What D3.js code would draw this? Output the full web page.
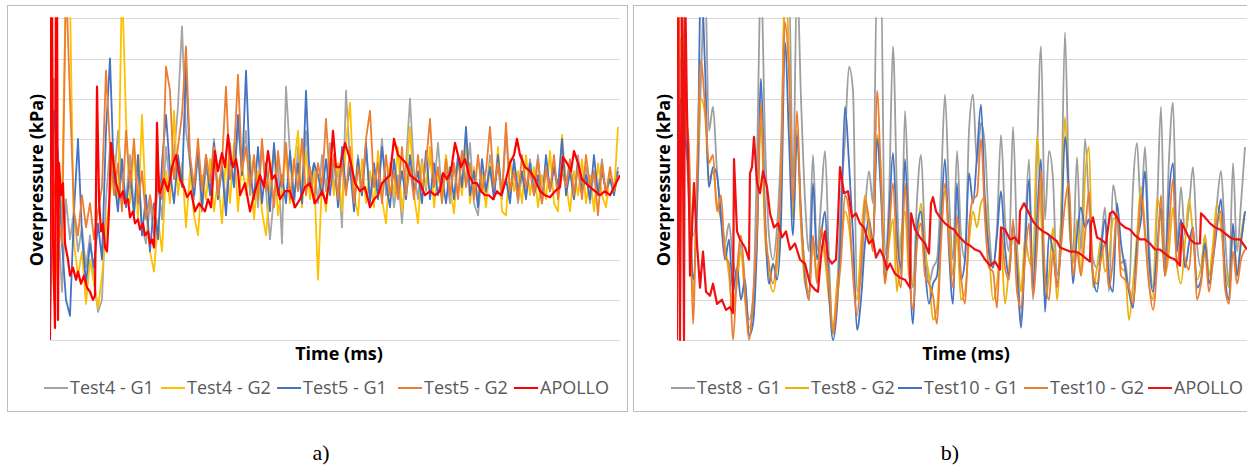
<!DOCTYPE html>
<html>
<head>
<meta charset="utf-8">
<script src="https://cdn.jsdelivr.net/npm/d3@7"></script>
<style>
  body { margin: 0; background: #fff; }
  svg { display: block; }
</style>
</head>
<body>
<div id="chart"></div>
<script>
// sample step of the measured series (same time units as the axis domain)
var step = 4

// ---------- panel a) ----------
var test4G1 = [
  0.5, 6.5, 3.0, 1.2, 3.5, 2.5, 3.2, 2.2, 2.8, 1.8,
  2.6, 1.5, 0.7, 1.0, 3.5, 4.8, 3.9, 5.2, 4.0, 3.5,
  4.6, 3.2, 4.4, 2.8, 2.4, 3.4, 2.6, 3.9, 3.0, 4.8,
  3.8, 4.6, 5.8, 7.8, 5.2, 4.4, 3.5, 4.6, 3.2, 4.3,
  3.8, 5.0, 3.6, 4.4, 3.4, 4.9, 3.8, 5.4, 4.2, 5.2,
  3.6, 4.5, 3.3, 4.8, 3.7, 2.5, 3.6, 4.5, 2.4, 6.3,
  4.6, 3.3, 4.8, 3.6, 5.2, 3.9, 4.4, 3.4, 4.6, 3.7,
  4.9, 3.8, 4.2, 2.8, 6.2, 4.4, 3.5, 4.6, 3.6, 4.8,
  3.5, 4.3, 3.8, 5.0, 3.6, 4.4, 3.3, 4.1, 2.9, 4.4,
  6.0, 4.2, 3.5, 4.5, 3.7, 4.6, 3.8, 4.9, 3.6, 4.2,
  3.4, 4.4, 3.6, 4.7, 3.9, 4.9, 3.4, 3.1, 4.2, 3.6,
  4.6, 3.8, 4.3, 3.5, 5.2, 3.6, 4.4, 3.4, 4.1, 3.6,
  4.5, 3.8, 4.6, 3.5, 4.2, 3.7, 4.3, 3.6, 4.8, 3.9,
  4.4, 3.5, 4.6, 3.8, 4.3, 3.4, 4.2, 3.7, 4.5, 3.6,
  4.1, 3.8, 4.3
]
var test4G2 = [
  4.0, 1.0, 2.5, 3.5, 9.0, 8.5, 2.4, 1.6, 2.2, 0.9,
  2.0, 1.4, 0.8, 1.6, 2.8, 3.6, 4.6, 3.2, 9.0, 5.5,
  3.4, 4.8, 3.0, 5.6, 3.2, 2.2, 1.7, 3.0, 2.2, 4.2,
  3.4, 5.7, 3.6, 4.4, 2.8, 4.2, 3.1, 2.6, 4.1, 3.5,
  4.5, 3.2, 4.0, 2.9, 4.6, 3.4, 4.9, 3.2, 4.4, 3.6,
  4.6, 3.0, 4.2, 3.2, 2.6, 3.9, 4.8, 3.1, 3.8, 4.6,
  3.4, 4.3, 5.2, 3.3, 4.7, 3.5, 4.2, 1.5, 4.0, 3.2,
  4.6, 3.6, 4.4, 3.2, 4.9, 5.9, 3.6, 3.1, 4.5, 3.4,
  4.2, 3.3, 4.7, 3.5, 2.9, 4.4, 3.6, 4.8, 3.2, 4.0,
  5.3, 3.6, 2.9, 4.4, 3.8, 4.8, 3.3, 4.2, 3.5, 4.6,
  3.8, 3.15, 4.5, 3.6, 4.9, 3.4, 4.3, 3.5, 4.1, 3.3,
  4.4, 3.6, 4.8, 3.2, 3.1, 4.5, 3.7, 4.2, 3.4, 4.6,
  3.6, 4.3, 3.3, 4.1, 3.5, 4.7, 3.4, 3.2, 5.1, 3.9,
  3.2, 4.2, 3.6, 4.5, 3.4, 4.1, 3.2, 4.4, 3.6, 3.3,
  4.2, 3.6, 5.3
]
var test5G1 = [
  0.25, 5.7, 4.6, 2.4, 1.0, 0.6, 3.2, 5.0, 2.6, 1.4,
  2.4, 1.8, 2.9, 2.0, 5.2, 7.0, 4.0, 3.2, 4.5, 3.3,
  4.2, 3.1, 4.6, 2.6, 3.6, 2.2, 3.4, 2.5, 4.4, 5.6,
  4.2, 3.4, 4.6, 3.8, 6.8, 4.4, 3.6, 4.8, 3.3, 4.6,
  3.6, 4.9, 3.5, 4.3, 3.1, 4.6, 3.8, 5.6, 4.1, 6.7,
  4.2, 3.5, 4.8, 3.4, 4.4, 3.2, 4.9, 3.6, 4.1, 3.4,
  4.7, 3.5, 4.4, 3.4, 6.2, 3.8, 4.4, 4.1, 3.6, 4.5,
  3.6, 4.6, 3.3, 4.8, 3.7, 4.3, 3.2, 4.5, 3.6, 4.9,
  3.4, 4.4, 3.5, 4.8, 3.9, 3.3, 4.5, 3.6, 4.2, 3.5,
  4.6, 3.7, 4.2, 3.4, 4.7, 3.5, 4.4, 3.6, 4.1, 3.4,
  4.3, 3.5, 4.6, 3.8, 5.3, 3.6, 4.2, 3.3, 4.5, 3.7,
  4.3, 3.5, 4.6, 3.6, 4.0, 3.4, 4.5, 3.7, 4.2, 3.5,
  4.4, 3.6, 4.1, 3.4, 4.6, 3.7, 4.3, 3.8, 5.0, 3.6,
  4.2, 3.5, 4.4, 3.7, 4.1, 3.5, 4.6, 3.6, 4.2, 3.7,
  4.0, 3.6, 4.2
]
var test5G2 = [
  2.0, 3.9, 3.0, 2.4, 9.0, 6.0, 3.2, 2.6, 3.6, 2.8,
  3.4, 2.5, 3.2, 3.8, 6.7, 4.8, 3.6, 4.4, 3.2, 5.2,
  3.8, 5.0, 3.4, 4.2, 3.0, 3.6, 3.0, 4.2, 3.5, 6.8,
  6.2, 4.0, 4.8, 5.6, 7.3, 4.6, 3.8, 5.0, 3.7, 4.6,
  3.9, 4.8, 3.6, 4.4, 6.3, 4.0, 4.6, 6.6, 4.2, 4.8,
  3.8, 4.6, 3.5, 5.0, 3.7, 4.4, 3.3, 4.7, 3.8, 4.9,
  3.5, 4.5, 3.7, 5.0, 3.6, 4.3, 3.4, 4.4, 3.8, 5.5,
  3.9, 4.6, 3.5, 4.4, 3.6, 4.8, 3.4, 4.3, 3.7, 5.0,
  5.7, 3.8, 4.4, 3.4, 4.6, 3.6, 4.2, 3.5, 4.8, 3.6,
  4.3, 3.5, 4.6, 3.7, 4.4, 5.5, 3.8, 4.3, 3.4, 4.5,
  3.6, 4.4, 3.5, 4.7, 3.8, 4.4, 3.5, 4.6, 3.7, 4.2,
  5.3, 3.8, 4.4, 3.6, 5.4, 3.7, 4.2, 3.5, 4.6, 3.8,
  4.2, 3.6, 4.5, 3.4, 4.3, 3.7, 4.6, 3.5, 4.2, 3.8,
  4.5, 3.6, 4.3, 3.5, 4.6, 3.8, 4.2, 3.1, 4.4, 3.6,
  4.3, 3.7, 4.1
]
// simulation: [time, overpressure]
var apolloA = [
  [0,0],[1,9],[2,9],[3,2.5],[5,0.3],[6,9],[7,9],[8,0.5],[9,4.4],[11,3.6],[13,3.9],[15,2.4],
  [18,2.0],[20,1.6],[23,1.8],[26,1.5],[28,1.7],[31,1.4],[34,1.6],[37,1.3],[40,1.2],[43,1.0],
  [45,1.1],[47,6.3],[49,3.5],[51,2.7],[53,2.9],[55,2.3],[57,2.2],[59,3.2],[61,4.9],[63,4.5],
  [66,3.9],[70,3.55],[73,3.7],[75,3.4],[78,3.5],[80,3.05],[83,3.2],[85,2.9],[88,3.0],[90,2.75],
  [93,2.9],[95,2.6],[98,2.7],[100,2.4],[102,2.5],[104,2.3],[106,3.6],[107,5.4],[109,3.7],
  [110,3.65],[114,4.0],[118,3.7],[122,4.3],[126,4.6],[130,4.0],[134,3.8],[137,3.55],[141,3.7],
  [145,3.2],[149,3.4],[152,3.3],[155,3.2],[158,3.5],[161,3.3],[165,4.7],[168,4.2],[172,4.65],
  [175,4.3],[178,5.1],[181,4.5],[183,4.3],[186,4.5],[188,4.2],[190,3.6],[195,3.9],[200,3.2],
  [205,3.7],[210,4.1],[214,3.8],[218,4.7],[222,4.0],[225,4.1],[230,3.5],[235,3.7],[240,3.7],
  [245,3.3],[250,3.5],[255,3.8],[260,3.9],[265,3.4],[270,3.6],[272,3.7],[276,3.4],[280,4.1],
  [283,5.2],[286,4.3],[290,4.3],[295,4.9],[300,4.5],[305,3.9],[310,3.7],[315,3.8],[320,3.3],
  [324,3.5],[328,3.6],[332,3.9],[336,4.0],[340,4.1],[344,5.0],[348,4.6],[352,4.5],[356,4.4],
  [360,4.1],[365,4.0],[370,3.9],[375,3.6],[380,3.7],[385,3.6],[390,3.7],[393,4.15],[397,4.0],
  [401,4.2],[405,4.9],[408,4.6],[411,4.3],[415,4.5],[419,4.1],[423,3.9],[427,3.9],[431,3.7],
  [435,3.6],[439,3.6],[443,3.5],[447,3.7],[451,3.6],[455,3.9],[460,4.4],[464,4.6],[467,5.0],
  [470,4.6],[475,4.3],[480,4.2],[485,4.0],[490,3.7],[495,3.6],[500,3.55],[505,3.7],[510,3.8],
  [513,4.55],[517,4.4],[521,4.2],[524,4.7],[528,4.4],[532,4.0],[536,3.9],[540,3.8],[545,3.7],
  [550,3.6],[555,3.7],[560,3.6],[565,3.85],[570,4.1]
]

// ---------- panel b) ----------
var test8G1 = [
  3.5, 7.0, 5.5, 3.5, 2.6, 3.4, 6.5, 9.0, 5.2, 5.8,
  4.2, 3.2, 2.4, 2.9, 2.0, 1.6, 2.4, 1.4, 0.5, 1.0,
  4.5, 9.0, 5.0, 2.6, 2.0, 2.8, 4.8, 8.5, 9.0, 3.8,
  9.0, 6.0, 3.5, 2.2, 4.6, 2.2, 3.4, 4.7, 2.0, 0.2,
  1.2, 3.5, 5.0, 6.8, 6.2, 1.2, 1.6, 3.2, 4.2, 3.4,
  9.0, 9.0, 2.1, 3.5, 7.3, 3.6, 1.6, 5.7, 3.0, 1.3,
  3.5, 4.6, 2.5, 1.4, 1.8, 2.0, 3.8, 6.1, 3.6, 2.0,
  4.7, 2.6, 2.0, 5.2, 6.1, 4.4, 5.4, 4.8, 2.8, 1.8,
  2.8, 5.1, 3.0, 2.2, 5.3, 2.4, 0.45, 2.6, 4.5, 1.0,
  4.5, 7.3, 3.0, 4.7, 4.0, 1.6, 3.0, 7.65, 3.6, 2.2,
  4.55, 2.2, 5.0, 3.4, 2.0, 1.8, 2.4, 3.3, 1.2, 3.85,
  3.2, 1.9, 2.0, 1.2, 3.8, 4.9, 3.2, 4.8, 2.4, 1.3,
  3.2, 5.8, 1.9, 4.5, 5.9, 2.4, 3.8, 2.6, 3.3, 4.3,
  2.4, 1.8, 2.6, 1.6, 2.2, 3.4, 4.2, 2.6, 1.4, 4.4,
  2.2, 3.4, 4.8
]
var test8G2 = [
  4.0, 7.5, 6.0, 4.5, 1.0, 3.8, 6.0, 5.6, 4.0, 4.2,
  3.4, 3.0, 2.4, 1.6, 0.8, 1.4, 2.2, 1.0, 0.3, 0.8,
  2.6, 5.4, 2.6, 1.6, 1.2, 1.8, 3.6, 9.0, 7.0, 3.0,
  5.2, 2.8, 1.4, 1.2, 2.4, 1.6, 2.6, 2.0, 1.0, 0.3,
  1.4, 2.2, 3.2, 2.8, 1.8, 1.0, 2.4, 3.6, 2.6, 2.4,
  5.1, 4.2, 1.4, 2.4, 3.0, 1.2, 2.6, 3.2, 1.6, 1.4,
  2.4, 3.4, 2.2, 1.6, 0.5, 0.8, 2.6, 3.7, 2.8, 1.6,
  2.6, 1.0, 1.2, 2.4, 3.2, 2.8, 3.4, 3.55, 2.2, 1.0,
  1.4, 2.4, 0.9, 1.8, 2.6, 2.2, 1.2, 2.5, 2.0, 1.8,
  5.05, 3.2, 1.0, 1.6, 2.8, 1.0, 3.0, 5.55, 3.0, 1.9,
  3.0, 1.6, 4.0, 4.8, 1.3, 1.8, 2.5, 1.7, 2.1, 3.0,
  3.05, 1.8, 1.7, 0.5, 1.4, 2.6, 3.8, 2.8, 1.4, 1.0,
  3.5, 3.0, 1.6, 2.2, 3.3, 1.9, 1.4, 2.4, 3.5, 2.6,
  1.5, 1.8, 2.6, 1.6, 2.4, 3.4, 2.8, 1.8, 1.3, 2.8,
  1.6, 2.6, 3.2
]
var test10G1 = [
  3.8, 6.0, 5.0, 4.1, 1.5, 3.2, 9.0, 6.8, 3.8, 4.3,
  4.1, 3.0, 2.0, 2.5, 1.2, 1.8, 1.0, 1.5, 0.1, 0.4,
  2.4, 6.5, 3.2, 1.4, 1.9, 1.5, 2.9, 7.4, 5.0, 2.6,
  5.1, 3.2, 1.6, 1.0, 3.9, 2.0, 2.6, 3.2, 1.2, 0.0,
  0.8, 2.8, 5.8, 4.4, 2.6, 0.25, 1.0, 2.4, 3.0, 2.4,
  5.0, 3.6, 1.5, 3.0, 4.65, 2.6, 1.8, 4.5, 2.2, 0.4,
  2.8, 3.2, 1.8, 0.9, 1.4, 1.6, 3.0, 4.5, 2.2, 0.9,
  3.9, 1.5, 2.0, 4.15, 3.4, 4.6, 5.85, 3.4, 2.2, 1.8,
  2.6, 3.7, 2.3, 1.6, 2.9, 1.8, 0.3, 2.2, 4.0, 1.3,
  3.0, 4.5, 0.7, 2.6, 2.2, 1.4, 2.4, 5.05, 3.6, 1.4,
  2.6, 3.3, 2.8, 3.0, 1.6, 1.2, 2.2, 3.0, 1.5, 1.2,
  3.4, 2.4, 1.8, 1.2, 0.8, 2.4, 3.0, 4.2, 2.0, 1.2,
  2.2, 3.3, 1.6, 3.6, 4.4, 2.2, 3.0, 1.8, 2.4, 2.8,
  1.3, 1.5, 2.4, 1.4, 2.0, 2.8, 3.5, 1.6, 1.0, 2.9,
  1.6, 2.4, 3.2
]
var test10G2 = [
  4.5, 8.5, 5.8, 4.8, 0.4, 4.2, 6.95, 5.8, 4.4, 4.6,
  3.2, 3.6, 2.1, 1.9, 0.0, 1.7, 2.6, 1.2, 0.0, 1.0,
  2.8, 5.9, 2.9, 1.9, 1.4, 2.2, 4.0, 7.9, 6.6, 3.4,
  5.7, 3.0, 1.8, 1.0, 2.6, 1.4, 2.8, 2.2, 1.4, 0.15,
  1.0, 2.0, 3.6, 3.2, 1.6, 0.6, 1.8, 3.5, 3.0, 2.2,
  6.2, 4.0, 1.4, 2.6, 3.9, 2.0, 1.3, 3.9, 1.8, 0.75,
  2.4, 2.9, 1.6, 1.4, 1.1, 0.4, 2.4, 3.9, 2.4, 1.3,
  3.1, 1.6, 0.9, 2.8, 3.5, 3.6, 5.0, 3.0, 1.8, 1.7,
  0.8, 2.8, 1.8, 1.5, 3.0, 1.2, 0.8, 2.0, 2.9, 1.1,
  2.3, 4.2, 1.6, 1.0, 2.2, 1.3, 2.3, 3.4, 3.9, 1.6,
  2.2, 1.6, 2.6, 3.7, 1.6, 1.4, 2.0, 2.4, 1.3, 2.0,
  3.2, 1.6, 1.5, 1.3, 0.9, 2.0, 3.6, 2.6, 1.4, 0.75,
  1.8, 3.6, 1.6, 2.8, 4.0, 1.8, 2.6, 2.0, 1.75, 2.8,
  1.0, 1.4, 2.2, 1.2, 2.0, 3.0, 3.2, 1.3, 0.9, 2.2,
  1.4, 2.0, 2.25
]
var apolloB = [
  [0,0],[1,9],[3,0],[5,9],[7,0],[8,9],[10,5.7],[12,3.4],[13,1.6],[17,3.9],[20,2.4],[23,1.3],
  [26,2.2],[29,1.2],[33,1.1],[36,1.4],[40,0.9],[45,1.0],[49,0.75],[53,0.82],[56,0.67],[57,4.5],
  [60,2.7],[63,2.5],[68,2.3],[72,2.0],[73,4.15],[75,4.3],[77,5.05],[80,3.9],[83,3.65],[86,4.2],
  [90,3.8],[93,3.15],[97,2.8],[101,2.9],[105,2.55],[109,2.7],[113,2.25],[118,2.4],[123,2.0],
  [128,1.9],[133,1.4],[138,1.25],[141,1.2],[143,1.8],[145,2.3],[148,2.7],[151,2.05],[155,1.9],
  [159,2.0],[161,3.0],[163,4.3],[167,3.65],[171,3.7],[175,3.05],[179,3.15],[183,2.9],[187,2.8],
  [192,2.4],[196,2.5],[199,2.05],[203,2.25],[207,2.05],[210,1.75],[213,1.9],[218,1.65],[223,1.55],
  [228,1.5],[233,1.3],[234,3.15],[238,2.75],[243,2.55],[248,2.4],[252,2.15],[254,3.4],[256,3.55],
  [259,3.2],[263,3.05],[268,2.9],[273,2.8],[277,2.75],[281,2.6],[285,2.5],[289,2.4],[293,2.35],
  [298,2.25],[303,2.2],[308,2.0],[313,1.85],[318,1.95],[323,1.75],[324,2.8],[328,2.75],[333,2.5],
  [338,2.55],[342,2.4],[343,3.2],[347,3.4],[351,3.2],[356,2.95],[361,2.8],[366,2.7],[370,2.65],
  [375,2.55],[380,2.45],[383,2.3],[388,2.25],[393,2.2],[398,2.2],[403,2.15],[408,2.05],[413,1.95],
  [414,2.9],[416,3.05],[420,2.55],[424,2.5],[429,2.4],[433,3.15],[436,3.2],[440,3.05],[443,2.9],
  [448,2.8],[453,2.75],[458,2.6],[463,2.5],[468,2.5],[473,2.4],[478,2.25],[483,2.25],[488,2.15],
  [493,2.05],[498,2.0],[503,1.85],[505,2.9],[508,2.75],[513,2.5],[518,2.4],[523,2.4],[524,3.15],
  [528,3.05],[533,2.9],[538,2.8],[543,2.75],[548,2.65],[553,2.55],[558,2.5],[563,2.5],[570,2.25]
]

var legendA = ["Test4 - G1", "Test4 - G2", "Test5 - G1", "Test5 - G2", "APOLLO"]
var legendB = ["Test8 - G1", "Test8 - G2", "Test10 - G1", "Test10 - G2", "APOLLO"]
var gridVals = [0, 1, 2, 3, 4, 5, 6, 7, 8]

var width = 1247, height = 474

var svg = d3.select("#chart").append("svg")
    .attr("width", width)
    .attr("height", height)

var y = d3.scaleLinear().domain([0, 8]).range([340, 18.3])

var panels = [
  {
    name: "a", frame: [7, 5, 620, 406], left: 50, caption: "a)", captionX: 321,
    titleX: 37, timeX: 339, curve: d3.curveLinear,
    legendX: [44, 161, 277, 398, 514], labels: legendA,
    series: [
      {values: test4G1, color: "#A5A5A5", w: 1.8},
      {values: test4G2, color: "#FFC000", w: 1.8},
      {values: test5G1, color: "#4472C4", w: 1.8},
      {values: test5G2, color: "#ED7D31", w: 1.8},
      {points: apolloA, color: "#FF0000", w: 2.2}
    ]
  },
  {
    name: "b", frame: [633, 5, 640, 406], left: 677, caption: "b)", captionX: 950,
    titleX: 664, timeX: 966, curve: d3.curveMonotoneX,
    legendX: [671, 785, 898, 1024, 1148], labels: legendB,
    series: [
      {values: test8G1, color: "#9E9E9E", w: 1.8},
      {values: test8G2, color: "#E9B20E", w: 1.8},
      {values: test10G1, color: "#4472C4", w: 1.8},
      {values: test10G2, color: "#ED7D31", w: 1.8},
      {points: apolloB, color: "#F01010", w: 2.2}
    ]
  }
]

panels.forEach(function(p) {
  var g = svg.append("g")
  var x = d3.scaleLinear().domain([0, 570]).range([p.left, p.left + 570])

  g.append("rect")
    .attr("x", p.frame[0] + 0.5).attr("y", p.frame[1] + 0.5)
    .attr("width", p.frame[2]).attr("height", p.frame[3])
    .attr("fill", "#fff").attr("stroke", "#bcbcbc").attr("stroke-width", 1)

  g.selectAll(".grid")
    .data(gridVals)
    .enter()
    .append("line")
    .attr("x1", x(0)).attr("x2", x(570))
    .attr("y1", function(d) { return Math.round(y(d)) + 0.5 })
    .attr("y2", function(d) { return Math.round(y(d)) + 0.5 })
    .attr("stroke", "#d9d9d9").attr("stroke-width", 1)

  svg.append("clipPath").attr("id", "clip-" + p.name)
    .append("rect")
    .attr("x", x(0)).attr("y", y(8) - 1)
    .attr("width", 570).attr("height", y(0) - y(8) + 2)

  p.series.forEach(function(s) {
    var pts = s.points ? s.points : s.values.map(function(v, i) { return [i * step, v] })
    var line = d3.line()
      .x(function(d) { return x(d[0]) })
      .y(function(d) { return y(d[1]) })
      .curve(s.points ? d3.curveLinear : p.curve)
    g.append("path")
      .datum(pts)
      .attr("d", line)
      .attr("clip-path", "url(#clip-" + p.name + ")")
      .attr("fill", "none")
      .attr("stroke", s.color)
      .attr("stroke-width", s.w)
      .attr("stroke-linejoin", "round")
  })

  g.append("text")
    .attr("transform", "translate(" + p.titleX + ",180) rotate(-90)")
    .attr("text-anchor", "middle").attr("dy", "0.35em")
    .style("font-family", "'Open Sans', sans-serif").style("font-weight", "bold")
    .style("font-size", "18px").attr("fill", "#000")
    .text("Overpressure (kPa)")

  g.append("text")
    .attr("x", p.timeX).attr("y", 360)
    .attr("text-anchor", "middle")
    .style("font-family", "'Open Sans', sans-serif").style("font-weight", "bold")
    .style("font-size", "18px").attr("fill", "#000")
    .text("Time (ms)")

  p.labels.forEach(function(lab, i) {
    var lx = p.legendX[i]
    g.append("line")
      .attr("x1", lx).attr("x2", lx + 24)
      .attr("y1", 388).attr("y2", 388)
      .attr("stroke", p.series[i].color).attr("stroke-width", 2)
    g.append("text")
      .attr("x", lx + 26).attr("y", 394)
      .style("font-family", "'Open Sans', sans-serif")
      .style("font-size", "18px").attr("fill", "#595959")
      .text(lab)
  })

  svg.append("text")
    .attr("x", p.captionX).attr("y", 460)
    .attr("text-anchor", "middle")
    .style("font-family", "'Liberation Serif', serif")
    .style("font-size", "22px").attr("fill", "#000")
    .text(p.caption)
})
</script>
</body>
</html>
